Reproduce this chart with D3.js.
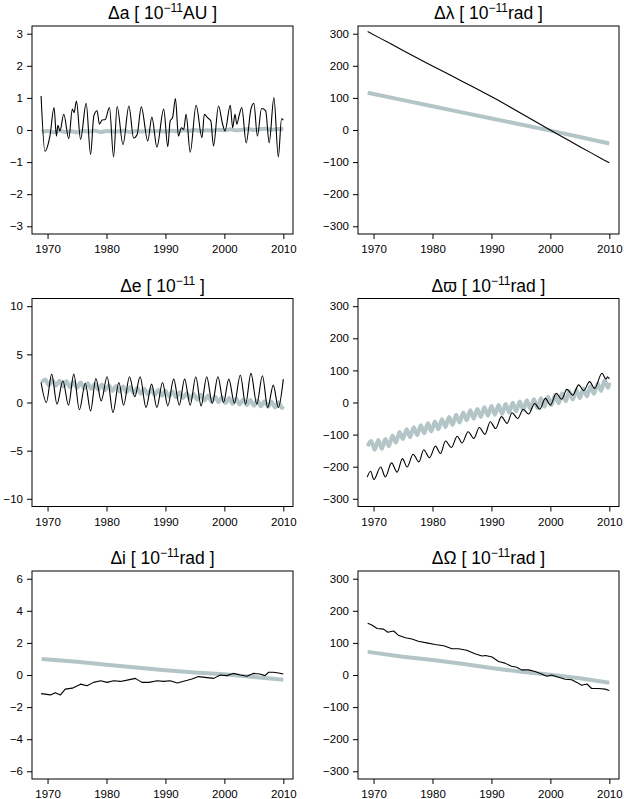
<!DOCTYPE html>
<html>
<head>
<meta charset="utf-8">
<script src="https://cdn.jsdelivr.net/npm/d3@7"></script>
<style>
  body { margin: 0; background: #fff; }
  text { font-family: "Liberation Sans", Arial, Helvetica, sans-serif; fill: #000; }
</style>
</head>
<body>
<svg id="chart"></svg>
<script>
// x axis ticks shared by all panels
const yearTicks = [1970, 1980, 1990, 2000, 2010];

// y ticks per panel
const aTicks = [-3, -2, -1, 0, 1, 2, 3];
const lTicks = [-300, -200, -100, 0, 100, 200, 300];
const eTicks = [-10, -5, 0, 5, 10];
const wTicks = [-300, -200, -100, 0, 100, 200, 300];
const iTicks = [-6, -4, -2, 0, 2, 4, 6];
const oTicks = [-300, -200, -100, 0, 100, 200, 300];

// Δa  (black = observed, grey = model)
const aBlackT = [1968.9, 1969.55, 1970.4, 1971.1, 1971.5, 1971.75, 1972.1, 1972.75, 1973.6, 1974.2, 1974.5, 1974.9, 1975.6, 1976.55, 1977.3, 1977.85, 1978.4, 1978.8, 1979.25, 1979.8, 1980.5, 1981.2, 1981.8, 1982.8, 1983.8, 1984.6, 1985.2, 1985.9, 1987.0, 1987.7, 1988.55, 1989.7, 1990.4, 1990.8, 1991.2, 1991.7, 1992.2, 1992.7, 1993.1, 1993.5, 1994.2, 1995.2, 1996.2, 1996.6, 1997.1, 1997.7, 1998.15, 1999.0, 1999.7, 2000.1, 2001.0, 2001.4, 2001.8, 2002.1, 2002.55, 2002.95, 2003.7, 2004.5, 2005.0, 2005.6, 2006.3, 2007.0, 2007.6, 2008.4, 2009.15, 2009.7, 2010.0];
const aBlackV = [1.06, -0.66, -0.19, 0.70, -0.19, 0.15, -0.03, 0.49, -0.27, 0.65, 0.54, 0.90, -0.29, 0.83, -0.76, 0.44, 0.60, 0.18, 0.31, 0.33, 0.70, -0.84, 0.73, -0.45, 0.75, -0.25, -0.14, 0.72, -0.34, 0.40, -0.53, 0.65, -0.52, 0.28, 0.38, 0.98, -0.19, 0.07, 0.02, 0.49, -0.69, 0.77, -0.24, 0.49, 0.39, 0.28, -0.50, 0.75, 0.18, -0.03, 0.77, 0.07, 0.49, 0.18, 0.49, 0.70, -0.40, 0.65, 0.83, -0.19, 0.67, 0.60, -0.40, 1.01, -0.84, 0.35, 0.31];
const aGreyT = [1969, 1970, 1971, 1972, 1973, 1974, 1975, 1976, 1977, 1978, 1979, 1980, 1981, 1982, 1983, 1984, 1985, 1986, 1987, 1988, 1989, 1990, 1991, 1992, 1993, 1994, 1995, 1996, 1997, 1998, 1999, 2000, 2001, 2002, 2003, 2004, 2005, 2006, 2007, 2008, 2009, 2010];
const aGreyV = [-0.06, -0.03, -0.07, -0.02, -0.06, -0.04, -0.07, -0.03, -0.05, -0.02, -0.06, -0.03, -0.05, -0.04, -0.02, -0.06, -0.03, -0.05, -0.02, -0.04, -0.03, -0.05, -0.02, -0.04, -0.01, -0.03, 0.00, -0.03, -0.01, -0.02, 0.01, -0.01, 0.02, -0.01, 0.01, 0.03, 0.00, 0.02, 0.04, 0.01, 0.03, 0.02];

// Δλ
const lBlackT = [1969, 1971, 1973, 1975, 1977, 1979, 1981, 1983, 1985, 1987, 1989, 1991, 1993, 1995, 1997, 1999, 2001, 2003, 2005, 2007, 2009, 2010];
const lBlackV = [307, 287, 268, 248, 228, 209, 190, 171, 152, 133, 114, 94, 73, 52, 31, 10, -11, -31, -52, -72, -93, -102];
const lGreyT = [1969, 1975, 1980, 1985, 1990, 1995, 2000, 2005, 2010];
const lGreyV = [116, 93, 74, 55, 36, 17, -2, -22, -42];

// fast sampling used by the grey curves of Δe and Δϖ
const fastT = [1969.0, 1969.6, 1970.2, 1970.8, 1971.4, 1972.0, 1972.6, 1973.2, 1973.8, 1974.4, 1975.0, 1975.6, 1976.2, 1976.8, 1977.4, 1978.0, 1978.6, 1979.2, 1979.8, 1980.4, 1981.0, 1981.6, 1982.2, 1982.8, 1983.4, 1984.0, 1984.6, 1985.2, 1985.8, 1986.4, 1987.0, 1987.6, 1988.2, 1988.8, 1989.4, 1990.0, 1990.6, 1991.2, 1991.8, 1992.4, 1993.0, 1993.6, 1994.2, 1994.8, 1995.4, 1996.0, 1996.6, 1997.2, 1997.8, 1998.4, 1999.0, 1999.6, 2000.2, 2000.8, 2001.4, 2002.0, 2002.6, 2003.2, 2003.8, 2004.4, 2005.0, 2005.6, 2006.2, 2006.8, 2007.4, 2008.0, 2008.6, 2009.2, 2009.8, 2010.0];

// Δe
const eBlackT = [1968.9, 1969.8, 1970.7, 1971.6, 1972.6, 1973.55, 1974.45, 1975.4, 1976.4, 1977.3, 1978.2, 1979.1, 1980.1, 1981.1, 1982.1, 1982.9, 1983.9, 1984.8, 1985.7, 1986.7, 1987.65, 1988.55, 1989.5, 1990.4, 1991.4, 1992.35, 1993.25, 1994.2, 1995.15, 1996.05, 1997.0, 1997.95, 1998.9, 1999.85, 2000.75, 2001.7, 2002.7, 2003.6, 2004.5, 2005.5, 2006.45, 2007.35, 2008.3, 2009.15, 2010.0];
const eBlackV = [2.08, 0.0, 2.95, -0.17, 2.26, -0.28, 2.95, -0.76, 2.0, -0.87, 2.5, 0.17, 2.67, -1.04, 2.08, -0.28, 2.67, 0.59, 2.67, -0.52, 1.91, -0.52, 2.08, -0.35, 2.43, -0.28, 2.43, -0.28, 2.67, -0.35, 2.67, -0.1, 2.67, 0.0, 2.43, -0.07, 2.85, -0.17, 3.02, -0.17, 2.78, -0.52, 1.8, -0.52, 2.43];
const eGreyV = [2.10, 2.40, 1.80, 2.33, 1.74, 2.26, 1.67, 2.20, 1.60, 2.13, 1.54, 2.07, 1.47, 2.00, 1.41, 1.93, 1.34, 1.86, 1.27, 1.79, 1.20, 1.72, 1.13, 1.65, 1.06, 1.58, 0.99, 1.51, 0.92, 1.44, 0.85, 1.37, 0.77, 1.30, 0.70, 1.23, 0.63, 1.14, 0.54, 1.06, 0.46, 0.97, 0.37, 0.89, 0.28, 0.80, 0.20, 0.72, 0.11, 0.63, 0.03, 0.55, -0.06, 0.46, -0.14, 0.38, -0.21, 0.32, -0.27, 0.26, -0.33, 0.20, -0.39, 0.14, -0.45, 0.08, -0.51, 0.02, -0.57, -0.40];

// Δϖ
const wBlackT = [1968.93, 1969.5, 1970.05, 1971.2, 1972.0, 1973.05, 1974.0, 1974.9, 1975.7, 1976.7, 1977.7, 1978.5, 1979.5, 1980.5, 1981.35, 1982.2, 1983.2, 1984.2, 1985.0, 1986.05, 1987.0, 1987.95, 1988.9, 1989.8, 1990.7, 1991.7, 1992.65, 1993.5, 1994.45, 1995.4, 1996.3, 1997.35, 1998.2, 1999.15, 2000.0, 2001.0, 2001.9, 2002.8, 2003.8, 2004.8, 2005.65, 2006.65, 2007.5, 2008.75, 2009.45, 2009.7, 2010.0];
const wBlackV = [-232, -214, -240, -201, -232, -188, -217, -175, -201, -161, -185, -147, -172, -136, -159, -120, -140, -105, -126, -91, -112, -78, -99, -60, -81, -44, -65, -32, -50, -21, -36, -3, -21, 13, -8, 29, 10, 41, 23, 55, 37, 65, 44, 91, 73, 80, 73];
const wGreyV = [-136, -120, -147, -117, -144, -114, -136, -103, -125, -92, -114, -83, -108, -77, -102, -71, -96, -65, -90, -59, -83, -52, -76, -45, -70, -38, -62, -31, -55, -24, -50, -20, -45, -15, -41, -11, -38, -8, -35, -5, -31, -1, -27, 3, -23, 7, -20, 10, -17, 13, -13, 18, -8, 23, -2, 29, 4, 35, 9, 40, 14, 44, 19, 51, 27, 59, 36, 69, 46, 62];

// Δi
const iBlackT = [1968.9, 1970.5, 1971.3, 1972.2, 1973.0, 1974.2, 1975.6, 1976.7, 1977.8, 1979.0, 1980.1, 1981.2, 1982.35, 1983.5, 1984.9, 1986.0, 1987.2, 1988.6, 1989.7, 1990.8, 1992.0, 1993.4, 1994.5, 1995.6, 1996.7, 1998.2, 1999.3, 2000.4, 2001.5, 2002.7, 2003.8, 2004.9, 2006.0, 2006.9, 2007.5, 2008.3, 2009.2, 2010.0];
const iBlackV = [-1.16, -1.24, -1.10, -1.24, -0.88, -0.82, -0.57, -0.67, -0.46, -0.36, -0.46, -0.36, -0.40, -0.32, -0.21, -0.46, -0.46, -0.36, -0.40, -0.36, -0.50, -0.36, -0.25, -0.10, -0.15, -0.21, 0.00, -0.04, 0.10, 0.00, -0.08, 0.10, 0.06, -0.04, 0.17, 0.17, 0.12, 0.06];
const iGreyT = [1969, 1975, 1980, 1985, 1990, 1995, 2000, 2005, 2010];
const iGreyV = [1.0, 0.82, 0.64, 0.47, 0.3, 0.15, 0.04, -0.12, -0.3];

// ΔΩ
const oBlackT = [1969, 1969.7, 1970.6, 1971.7, 1972.4, 1973.4, 1974.2, 1975.4, 1976.5, 1977.6, 1979.0, 1980.45, 1981.9, 1983.3, 1984.4, 1985.8, 1987.2, 1988.4, 1989.0, 1990.1, 1991.2, 1992.3, 1993.4, 1994.3, 1995.1, 1996.3, 1997.4, 1998.5, 1999.4, 2000.2, 2001.4, 2002.5, 2003.6, 2004.5, 2005.3, 2006.2, 2007.0, 2008.1, 2009.3, 2010.0];
const oBlackV = [161, 156, 145, 143, 133, 137, 124, 116, 112, 105, 100, 95, 91, 82, 82, 77, 66, 59, 61, 56, 42, 37, 27, 24, 16, 16, 11, 3, -4, 0, -7, -13, -15, -23, -32, -28, -42, -42, -44, -48];
const oGreyT = [1969, 1975, 1980, 1985, 1990, 1995, 2000, 2005, 2010];
const oGreyV = [72, 57, 47, 35, 22, 10, 1, -10, -24];

const panels = [
    {title: ["\u0394a [ 10", "\u221211", "AU ]"], ticks: aTicks, black: [aBlackT, aBlackV], grey: [aGreyT, aGreyV], smooth: true},
    {title: ["\u0394\u03bb [ 10", "\u221211", "rad ]"], ticks: lTicks, black: [lBlackT, lBlackV], grey: [lGreyT, lGreyV], smooth: false},
    {title: ["\u0394e [ 10", "\u221211", " ]"], ticks: eTicks, black: [eBlackT, eBlackV], grey: [fastT, eGreyV], smooth: true},
    {title: ["\u0394\u03d6 [ 10", "\u221211", "rad ]"], ticks: wTicks, black: [wBlackT, wBlackV], grey: [fastT, wGreyV], smooth: true},
    {title: ["\u0394i [ 10", "\u221211", "rad ]"], ticks: iTicks, black: [iBlackT, iBlackV], grey: [iGreyT, iGreyV], smooth: false},
    {title: ["\u0394\u03a9 [ 10", "\u221211", "rad ]"], ticks: oTicks, black: [oBlackT, oBlackV], grey: [oGreyT, oGreyV], smooth: false}
];

const width = 624, height = 799;
const colLeft = [32, 358];
const rowTop = [26, 298.5, 571];
const boxW = 261, boxH = 208;
const greyColor = "#b4c5c7";

const svg = d3.select("#chart").attr("width", width).attr("height", height);

function pairs(t, v) {
    const n = Math.min(t.length, v.length);
    return t.slice(0, n).map((d, i) => [d, v[i]]);
}

panels.forEach((p, k) => {
    const col = k % 2, row = Math.floor(k / 2);
    const g = svg.append("g").attr("transform", `translate(${colLeft[col]},${rowTop[row]})`);

    // R style: 4% padding around the data range
    const yMin = d3.min(p.ticks), yMax = d3.max(p.ticks);
    const yPad = (yMax - yMin) * 0.04;
    const xPad = (2010 - 1969) * 0.04;

    const x = d3.scaleLinear().domain([1969 - xPad, 2010 + xPad]).range([0, boxW]);
    const y = d3.scaleLinear().domain([yMin - yPad, yMax + yPad]).range([boxH, 0]);

    const line = d3.line()
        .x(d => x(d[0]))
        .y(d => y(d[1]))
        .curve(p.smooth ? d3.curveMonotoneX : d3.curveLinear);

    g.append("path")
        .datum(pairs(p.grey[0], p.grey[1]))
        .attr("d", line)
        .attr("fill", "none")
        .attr("stroke", greyColor)
        .attr("stroke-width", 4)
        .attr("stroke-linejoin", "round");

    g.append("path")
        .datum(pairs(p.black[0], p.black[1]))
        .attr("d", line)
        .attr("fill", "none")
        .attr("stroke", "#000")
        .attr("stroke-width", 1.1)
        .attr("stroke-linejoin", "round");

    // box round the plot
    g.append("rect")
        .attr("x", 0).attr("y", 0)
        .attr("width", boxW).attr("height", boxH)
        .attr("fill", "none")
        .attr("stroke", "#000")
        .attr("stroke-width", 1);

    const yAxis = g.append("g")
        .call(d3.axisLeft(y).tickValues(p.ticks).tickSize(5).tickPadding(4).tickFormat(d3.format("d")));
    yAxis.select(".domain").remove();

    const xAxis = g.append("g")
        .attr("transform", `translate(0,${boxH})`)
        .call(d3.axisBottom(x).tickValues(yearTicks).tickSize(5).tickPadding(6).tickFormat(d3.format("d")));
    xAxis.select(".domain").remove();

    g.selectAll(".tick text").attr("font-size", 11.5).attr("font-family", null);
    g.selectAll(".tick line").attr("stroke", "#000");

    // title with superscript exponent
    const title = g.append("text")
        .attr("x", boxW / 2)
        .attr("y", -7)
        .attr("text-anchor", "middle")
        .attr("font-size", 17.5);
    title.append("tspan").text(p.title[0]);
    title.append("tspan").attr("font-size", 12).attr("dy", -7).text(p.title[1]);
    title.append("tspan").attr("dy", 7).text(p.title[2]);
});
</script>
</body>
</html>
